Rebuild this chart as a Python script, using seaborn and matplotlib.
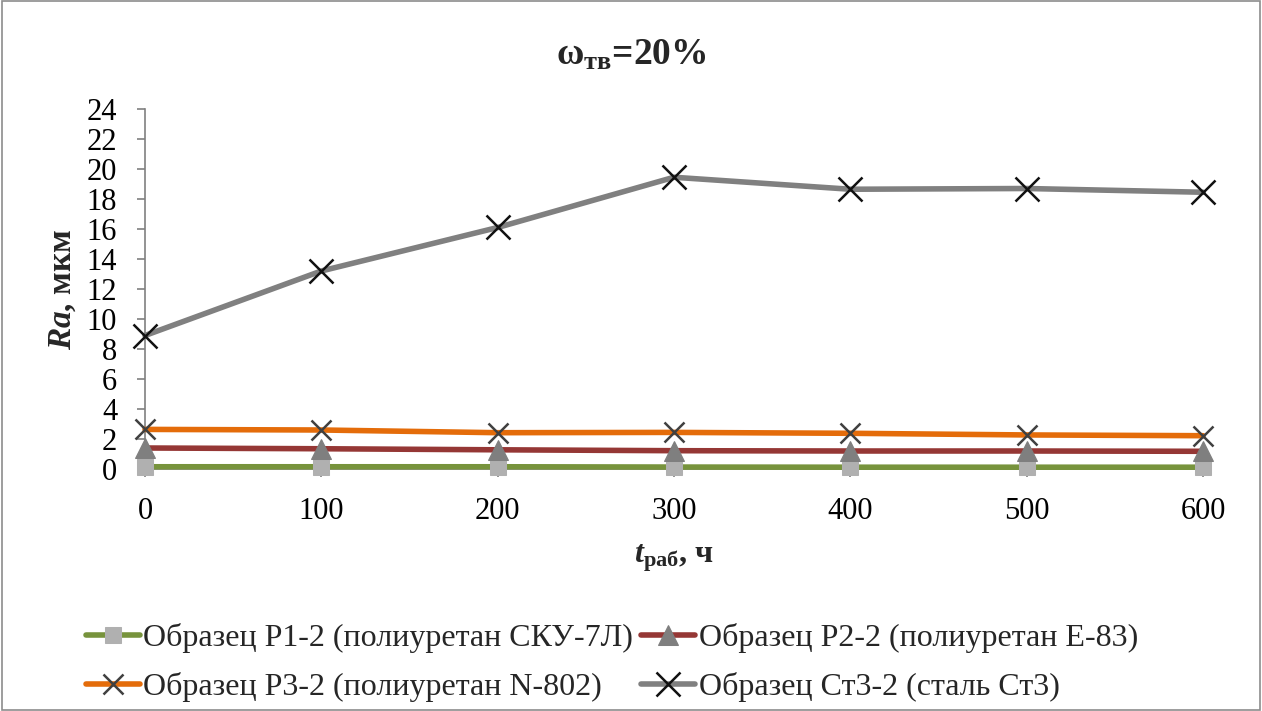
import matplotlib
matplotlib.use("Agg")
import matplotlib.pyplot as plt
import seaborn as sns
import pandas as pd
from matplotlib.patches import Rectangle

t_hours = [0, 100, 200, 300, 400, 500, 600]
ra_p1 = [0.15, 0.15, 0.15, 0.13, 0.12, 0.12, 0.12]
ra_p2 = [1.4, 1.35, 1.28, 1.22, 1.2, 1.2, 1.18]
ra_p3 = [2.64, 2.6, 2.42, 2.44, 2.38, 2.27, 2.22]
ra_st3 = [8.9, 13.2, 16.1, 19.45, 18.65, 18.7, 18.45]

names = ["Образец Р1-2 (полиуретан СКУ-7Л)",
         "Образец Р2-2 (полиуретан Е-83)",
         "Образец Р3-2 (полиуретан N-802)",
         "Образец Ст3-2 (сталь Ст3)"]
yticks = list(range(0, 25, 2))

sns.set_theme(style="white")
plt.rcParams['font.family'] = ['Liberation Serif', 'DejaVu Serif']
plt.rcParams['mathtext.fontset'] = 'custom'
plt.rcParams['mathtext.rm'] = 'Liberation Serif'
plt.rcParams['mathtext.it'] = 'Liberation Serif:italic'
plt.rcParams['mathtext.bf'] = 'Liberation Serif:bold'
plt.rcParams['mathtext.bfit'] = 'Liberation Serif:italic:bold'

fig = plt.figure(figsize=(12.62, 7.11), dpi=100)
ax = fig.add_axes([145/1262, 1 - 469/711, (1203-145)/1262, (469-109)/711])

styles = [
    dict(color="#77933C", marker="s", markersize=12, mfc="#B0B0B0", mec="#B0B0B0"),
    dict(color="#953735", marker="^", markersize=14, mfc="#7F7F7F", mec="#7F7F7F"),
    dict(color="#E46C0A", marker="x", markersize=15, mfc="#404040", mec="#404040", mew=1.8),
    dict(color="#808080", marker="x", markersize=17, mfc="#111111", mec="#111111", mew=1.8),
]
series = [ra_p1, ra_p2, ra_p3, ra_st3]
for name, vals, st in zip(names, series, styles):
    df = pd.DataFrame({"t": t_hours, "Ra": vals})
    sns.lineplot(data=df, x="t", y="Ra", ax=ax, label=name, linewidth=4, clip_on=False,
                 zorder=3, **st)

ax.set_xlim(0, 600)
ax.set_ylim(0, 24)
ax.set_xticks(t_hours)
ax.set_yticks(yticks)
ax.tick_params(axis='both', labelsize=22, colors='black', length=6, width=1.2,
               color='#808080', direction='out', left=True, bottom=True)
ax.tick_params(axis='x', pad=14)
ax.tick_params(axis='y', pad=14)
for s in ['top', 'right']:
    ax.spines[s].set_visible(False)
for s in ['left', 'bottom']:
    ax.spines[s].set_color('#808080')
    ax.spines[s].set_linewidth(1.2)

ax.set_xlabel(r"$\mathbfit{t}_{\mathbf{раб}}$, ч", fontsize=23, fontweight='bold', labelpad=12)
ax.set_ylabel(r"$\mathbfit{Ra}$, мкм", fontsize=24, fontweight='bold', labelpad=6)
fig.text(0.5, 1 - 55/711, r"ω$_{\mathbf{тв}}$=20%", ha='center', va='center',
         fontsize=27, fontweight='bold')

handles, labels = ax.get_legend_handles_labels()
order = [0, 2, 1, 3]
leg = ax.legend([handles[i] for i in order], [labels[i] for i in order],
                loc='upper left', bbox_to_anchor=(73/1262, 1 - 610/711), bbox_transform=fig.transFigure,
                ncol=2, frameon=False, fontsize=23, handlelength=1.7, handletextpad=0.1,
                columnspacing=0.25, labelspacing=0.6, borderaxespad=0)

fig.patches.append(Rectangle((0.0015, 0.002), 0.997, 0.996, transform=fig.transFigure,
                             fill=False, edgecolor='#8C8C8C', linewidth=1.2))

fig.savefig("out.png", dpi=100)
